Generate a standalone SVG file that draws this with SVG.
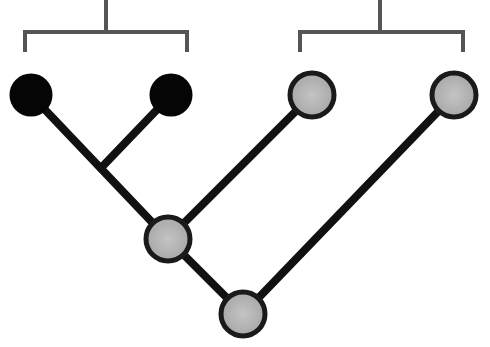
<svg xmlns="http://www.w3.org/2000/svg" width="490" height="347" viewBox="0 0 490 347">
<style>
.edge{stroke:#111;stroke-width:8;stroke-linecap:round;fill:none}
.bracket{stroke:#555;stroke-width:4;fill:none}
.black{fill:#050505;stroke:#050505;stroke-width:3}
.grey{fill:url(#g);stroke:#1a1a1a;stroke-width:5}
</style>
<defs>
<radialGradient id="g" cx="0.5" cy="0.5" r="0.5">
<stop offset="0" stop-color="#c4c4c4"/>
<stop offset="1" stop-color="#a8a8a8"/>
</radialGradient>
</defs>
<g id="brackets">
<path class="bracket" d="M25,52 V32 H187 V52 M106,0 V32"/>
<path class="bracket" d="M300,52 V32 H463 V52 M380,0 V32"/>
</g>
<g id="connectors">
<line class="edge" x1="31" y1="95" x2="168" y2="239"/>
<line class="edge" x1="171" y1="95" x2="101" y2="168"/>
<line class="edge" x1="312" y1="95" x2="168" y2="239"/>
<line class="edge" x1="168" y1="239" x2="243" y2="314"/>
<line class="edge" x1="454" y1="95" x2="243" y2="314"/>
</g>
<g id="n1"><circle class="black" cx="31" cy="95" r="20"/></g>
<g id="n2"><circle class="black" cx="171" cy="95" r="20"/></g>
<g id="n3"><circle class="grey" cx="312" cy="95" r="22"/></g>
<g id="n4"><circle class="grey" cx="454" cy="95" r="22"/></g>
<g id="n5"><circle class="grey" cx="168" cy="239" r="22"/></g>
<g id="n6"><circle class="grey" cx="243" cy="314" r="22"/></g>
</svg>
